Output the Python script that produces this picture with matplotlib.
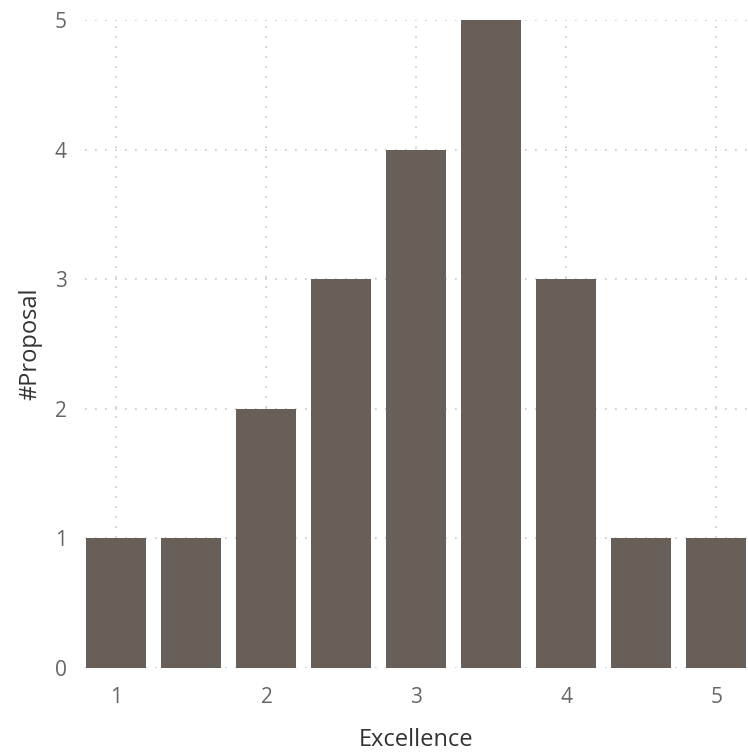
import matplotlib
matplotlib.use('Agg')
import matplotlib.pyplot as plt

# Data
excellence = [1, 1.5, 2, 2.5, 3, 3.5, 4, 4.5, 5]
proposals = [1, 1, 2, 3, 4, 5, 3, 1, 1]
x_ticks = [1, 2, 3, 4, 5]
y_ticks = [0, 1, 2, 3, 4, 5]

plt.rcParams['font.family'] = ['Open Sans', 'DejaVu Sans']

fig = plt.figure(figsize=(7.48, 7.54), dpi=100)
ax = fig.add_axes([0.1136, 0.1141, 0.8864, 0.8594])

ax.bar(excellence, proposals, width=0.4, color='#685f58', zorder=3)

ax.set_xlim(0.79, 5.21)
ax.set_ylim(0, 5)
ax.set_xticks(x_ticks)
ax.set_yticks(y_ticks)
ax.tick_params(length=0, labelsize=15, labelcolor='#666666', pad=14)
ax.tick_params(axis='y', pad=13)

ax.grid(True, linestyle=(0, (1, 5)), color='#c8c8c8', linewidth=1.2, zorder=0)
for s in ax.spines.values():
    s.set_visible(False)

ax.set_xlabel('Excellence', fontsize=17, color='#333333', labelpad=14)
ax.set_ylabel('#Proposal', fontsize=17, color='#333333', labelpad=9)

fig.savefig('out.png', dpi=100)
